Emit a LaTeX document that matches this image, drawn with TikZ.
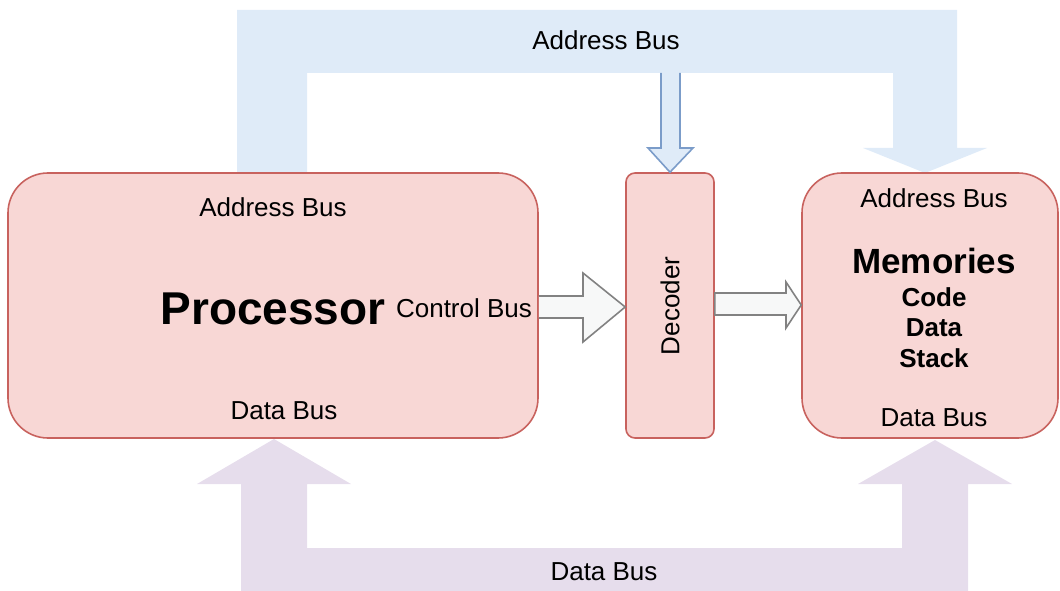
\documentclass[tikz,border=0pt]{standalone}
\usepackage{fontspec}
\setmainfont{Liberation Sans}
\begin{document}
\begin{tikzpicture}[x=1bp,y=-1bp,
  block/.style={draw=boxline, fill=boxfill, line width=1.6bp, inner sep=0pt},
  lbl/.style={inner sep=0pt, font=\fontsize{26bp}{30bp}\selectfont},
  busarrow/.style={draw=arrline, fill=arrfill, line width=1.6bp, line join=miter}]
\definecolor{boxfill}{HTML}{F8D7D5}
\definecolor{boxline}{HTML}{C8625E}
\definecolor{addrfill}{HTML}{DFEBF8}
\definecolor{addrline}{HTML}{7B9CC9}
\definecolor{datafill}{HTML}{E6DDEC}
\definecolor{arrfill}{HTML}{F7F8F8}
\definecolor{arrline}{HTML}{828282}
\useasboundingbox (0,0) rectangle (1060,591);

% address bus (top)
\fill[addrfill] (237,173) -- (237,10) -- (957,10) -- (957,148) -- (987,148)
  -- (925,173) -- (863,148) -- (893,148) -- (893,73) -- (307,73) -- (307,173) -- cycle;
% data bus (bottom)
\fill[datafill] (241,591) -- (241,484) -- (197,484) -- (274,439) -- (351,484)
  -- (307,484) -- (307,548) -- (902,548) -- (902,484) -- (858,484) -- (935,440)
  -- (1012,484) -- (968,484) -- (968,591) -- cycle;

% blocks
\node[block, rounded corners=40bp, minimum width=530bp, minimum height=265bp] (proc) at (273,305.5) {};
\node[block, rounded corners=9bp, minimum width=88bp, minimum height=265bp] (dec) at (670,305.5) {};
\node[block, rounded corners=40bp, minimum width=256bp, minimum height=265bp] (mem) at (930,305.5) {};

% address tap into the decoder
\coordinate (tapL) at (661,73);
\coordinate (tapR) at (680,73);
\fill[addrfill] (tapL) -- (661,148) -- (648,148) -- (dec.north) -- (693,148) -- (680,148) -- (tapR) -- cycle;
\draw[addrline, line width=1.6bp, line join=miter] (tapL) -- (661,148) -- (648,148) -- (dec.north) -- (693,148) -- (680,148) -- (tapR);

% control bus arrows
\draw[busarrow] (proc.east |- 0,296) -- (583,296) -- (583,273) -- (dec.west |- 0,307)
  -- (583,342) -- (583,318) -- (proc.east |- 0,318);
\draw[busarrow] (dec.east |- 0,293) -- (786,293) -- (786,282) -- (mem.west |- 0,305)
  -- (786,328) -- (786,315) -- (dec.east |- 0,315) -- cycle;

% labels
\node[lbl] (tA) at (606,40) {Address Bus};
\node[lbl] (pA) at (273,207) {Address Bus};
\node[inner sep=0pt, font=\fontsize{46bp}{50bp}\selectfont\bfseries] (pN) at (273,309) {Processor};
\node[lbl] (pC) at (464,308) {Control Bus};
\node[lbl] (pD) at (284,411) {Data Bus};
\node[lbl, rotate=90] (dN) at (670,306) {Decoder};
\node[lbl] (mA) at (934,198) {Address Bus};
\node[inner sep=0pt, font=\fontsize{35bp}{40bp}\selectfont\bfseries] (mN) at (934,261) {Memories};
\node[lbl, font=\fontsize{26bp}{30bp}\selectfont\bfseries] (m1) at (934,297) {Code};
\node[lbl, font=\fontsize{26bp}{30bp}\selectfont\bfseries] (m2) at (934,328) {Data};
\node[lbl, font=\fontsize{26bp}{30bp}\selectfont\bfseries] (m3) at (934,358) {Stack};
\node[lbl] (mD) at (934,418) {Data Bus};
\node[lbl] (bD) at (604,572) {Data Bus};
\end{tikzpicture}
\end{document}
